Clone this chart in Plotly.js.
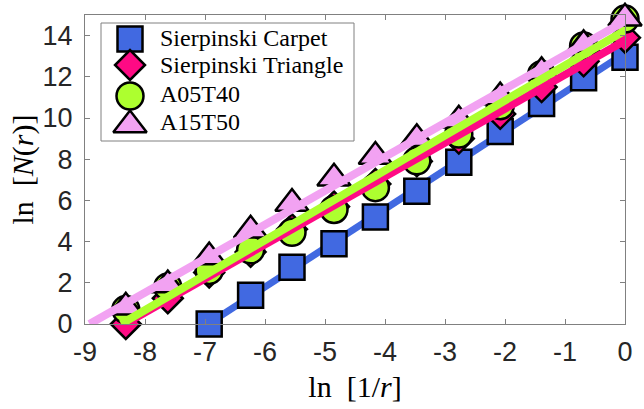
<!DOCTYPE html>
<html><head><meta charset="utf-8">
<script src="https://cdn.plot.ly/plotly-3.0.1.min.js"></script>
<style>html,body{margin:0;padding:0;background:#fff;}#chart{width:644px;height:409px;}</style>
</head><body><div id="chart"></div>
<script>
// ---- data ----
const seriesNames = ['Sierpinski Carpet', 'Sierpinski Triangle', 'A05T40', 'A15T50'];
const lnInvR = [-8.32, -7.62, -6.93, -6.24, -5.55, -4.85, -4.16, -3.47, -2.77, -2.08, -1.39, -0.69, 0];
const carpetLnInvR = [-6.93, -6.24, -5.55, -4.85, -4.16, -3.47, -2.77, -2.08, -1.39, -0.69, 0];
const carpetLnN = [0, 1.4, 2.75, 3.9, 5.2, 6.45, 7.85, 9.35, 10.7, 11.95, 12.95];
const triangleLnN = [0, 1.25, 2.5, 3.5, 4.6, 5.7, 6.8, 7.9, 9.0, 10.2, 11.5, 12.75, 13.9];
const a05t40LnN = [0.7, 1.8, 2.6, 3.6, 4.45, 5.56, 6.62, 7.92, 9.22, 10.6, 12.1, 13.5, 14.8];
const a15t50LnN = [0.81, 1.89, 3.25, 4.55, 5.85, 7.07, 8.13, 8.99, 9.89, 11.02, 12.24, 13.55, 14.84];
const xTicks = [-9, -8, -7, -6, -5, -4, -3, -2, -1, 0];
const xTickLabels = ['-9', '-8', '-7', '-6', '-5', '-4', '-3', '-2', '-1', '0'];
const yTicks = [0, 2, 4, 6, 8, 10, 12, 14];
const yTickLabels = ['0', '2', '4', '6', '8', '10', '12', '14'];

// ---- styles ----
const colors = ['#4169E1', '#FF0A84', '#ADFF2F', '#F2A2F2'];
const symbols = ['square', 'diamond', 'circle', 'triangle-up'];
const sizes = [25, 23, 27, 29];
const lineWidths = [7, 8, 8, 8];

function fitLine(xs, ys) {
  const n = xs.length;
  let sx = 0, sy = 0, sxx = 0, sxy = 0;
  for (let i = 0; i < n; i++) { sx += xs[i]; sy += ys[i]; sxx += xs[i] * xs[i]; sxy += xs[i] * ys[i]; }
  const m = (n * sxy - sx * sy) / (n * sxx - sx * sx);
  const b = (sy - m * sx) / n;
  const xEnd = xs[n - 1];
  const xStart = -b / m;
  return { x: [xStart, xEnd], y: [m * xStart + b, m * xEnd + b] };
}

const seriesX = [carpetLnInvR, lnInvR, lnInvR, lnInvR];
const seriesY = [carpetLnN, triangleLnN, a05t40LnN, a15t50LnN];

function markerTrace(i) {
  return {
    x: seriesX[i], y: seriesY[i], type: 'scatter', mode: 'markers', name: seriesNames[i],
    showlegend: false, cliponaxis: false, hoverinfo: 'skip',
    marker: { symbol: symbols[i], size: sizes[i], color: colors[i], opacity: 1, line: { color: '#000', width: 2.5 } }
  };
}
function lineTrace(i) {
  const f = fitLine(seriesX[i], seriesY[i]);
  return {
    x: f.x, y: f.y, type: 'scatter', mode: 'lines', showlegend: false, cliponaxis: false, hoverinfo: 'skip',
    line: { color: colors[i], width: lineWidths[i] }
  };
}

const traces = [
  lineTrace(0), markerTrace(0), markerTrace(1), markerTrace(2), markerTrace(3),
  lineTrace(1), lineTrace(2), lineTrace(3)
];

// ---- hand-built legend (paper-fraction overlay axes) ----
const L = 85, R = 625, T = 15, B = 324;
const fx = px => (px - L) / (R - L);
const fy = py => (B - py) / (B - T);
const legendMarkerPx = 130;
const legendMarkerPy = [39, 65, 96, 125];
const legendTextPy = [38, 65, 94, 122];
traces.push({
  x: legendMarkerPy.map(() => fx(legendMarkerPx)), y: legendMarkerPy.map(fy),
  xaxis: 'x2', yaxis: 'y2', type: 'scatter', mode: 'markers', showlegend: false, cliponaxis: false, hoverinfo: 'skip',
  marker: { symbol: symbols, size: sizes, color: colors, opacity: 1, line: { color: '#000', width: 2.5 } }
});

const annotations = seriesNames.map((s, i) => ({
  xref: 'paper', yref: 'paper', x: fx(158), y: fy(legendTextPy[i]), xanchor: 'left', yanchor: 'middle',
  text: s, showarrow: false, font: { family: 'Liberation Serif, serif', size: 24, color: '#000' }
}));

const axisCommon = {
  ticks: 'inside', ticklen: 5, tickcolor: '#808080', tickwidth: 1,
  showline: true, linecolor: '#808080', linewidth: 1, mirror: 'ticks',
  showgrid: false, zeroline: false,
  tickfont: { family: 'Liberation Sans, Arial, sans-serif', size: 27, color: '#262626' }
};

const layout = {
  width: 644, height: 409,
  margin: { l: L, r: 644 - R, t: T, b: 409 - B },
  paper_bgcolor: '#fff', plot_bgcolor: '#fff',
  showlegend: false,
  xaxis: Object.assign({}, axisCommon, {
    range: [-9, 0], tickmode: 'array', tickvals: xTicks, ticktext: xTickLabels, ticklabelstandoff: 4,
    title: { text: 'ln&nbsp;&nbsp;[1/<i>r</i>]', standoff: 9, font: { family: 'Liberation Serif, serif', size: 30, color: '#000' } }
  }),
  yaxis: Object.assign({}, axisCommon, {
    range: [0, 15], tickmode: 'array', tickvals: yTicks, ticktext: yTickLabels, ticklabelstandoff: 6,
    title: { text: 'ln&nbsp;&nbsp;[<i>N</i>(<i>r</i>)]', standoff: 0, font: { family: 'Liberation Serif, serif', size: 30, color: '#000' } }
  }),
  xaxis2: { overlaying: 'x', anchor: 'y2', range: [0, 1], visible: false, fixedrange: true },
  yaxis2: { overlaying: 'y', anchor: 'x2', range: [0, 1], visible: false, fixedrange: true },
  shapes: [{
    type: 'rect', xref: 'paper', yref: 'paper', layer: 'below',
    x0: fx(101), x1: fx(354), y0: fy(141), y1: fy(23),
    line: { color: '#808080', width: 1 }, fillcolor: '#fff'
  }],
  annotations: annotations
};

Plotly.newPlot('chart', traces, layout, { staticPlot: true, displayModeBar: false });
</script></body></html>
